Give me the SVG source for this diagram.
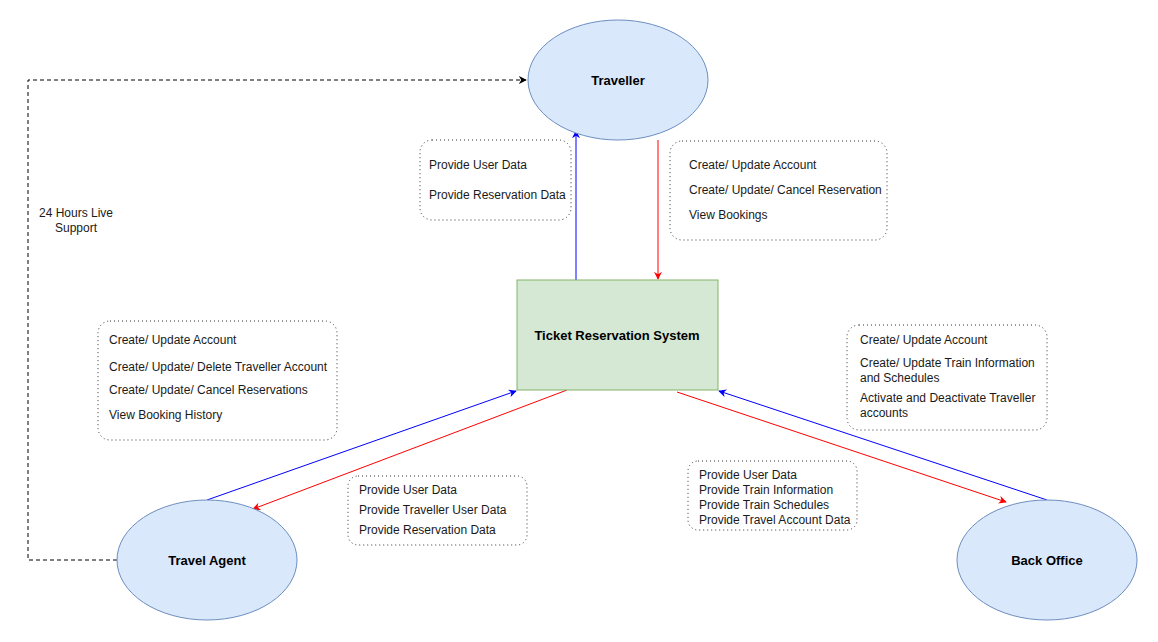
<svg xmlns="http://www.w3.org/2000/svg" width="1158" height="642" viewBox="0 0 1158 642">
<style>
.el{fill:#dae8fc;stroke:#6c8ebf;stroke-width:1}
.sys{fill:#d5e8d4;stroke:#82b366;stroke-width:1}
.box{fill:none;stroke:#333;stroke-width:1;stroke-dasharray:1 3}
.t{font-family:"Liberation Sans",Arial,sans-serif;font-size:12px;fill:#1a1a1a}
.b{font-family:"Liberation Sans",Arial,sans-serif;font-size:13px;font-weight:bold;fill:#000;text-anchor:middle}
.blue{stroke:#0000ff;stroke-width:1;fill:none}
.red{stroke:#ff0000;stroke-width:1;fill:none}
.dash{stroke:#000;stroke-width:1;fill:none;stroke-dasharray:4 3}
</style>
<defs>
<marker id="ab" viewBox="0 0 10 10" refX="9" refY="5" markerWidth="8" markerHeight="8" orient="auto" markerUnits="userSpaceOnUse"><path d="M0,0 L10,5 L0,10 L3,5 Z" fill="#0000ff"/></marker>
<marker id="ar" viewBox="0 0 10 10" refX="9" refY="5" markerWidth="8" markerHeight="8" orient="auto" markerUnits="userSpaceOnUse"><path d="M0,0 L10,5 L0,10 L3,5 Z" fill="#ff0000"/></marker>
<marker id="ak" viewBox="0 0 10 10" refX="9" refY="5" markerWidth="8" markerHeight="8" orient="auto" markerUnits="userSpaceOnUse"><path d="M0,0 L10,5 L0,10 L3,5 Z" fill="#000"/></marker>
</defs>
<rect width="1158" height="642" fill="#fff"/>
<g id="connectors">
<path class="dash" d="M117,560 H28 V80 H526" marker-end="url(#ak)"/>
<line class="blue" x1="576" y1="280" x2="576" y2="131" marker-end="url(#ab)"/>
<line class="red" x1="658" y1="140" x2="658" y2="279" marker-end="url(#ar)"/>
<line class="blue" x1="207" y1="500" x2="516" y2="391" marker-end="url(#ab)"/>
<line class="red" x1="567" y1="390" x2="253" y2="509" marker-end="url(#ar)"/>
<line class="red" x1="677" y1="392" x2="1006" y2="502" marker-end="url(#ar)"/>
<line class="blue" x1="1047" y1="500" x2="719" y2="391" marker-end="url(#ab)"/>
</g>
<g id="traveller">
<ellipse class="el" cx="618" cy="80" rx="90" ry="60"/>
<text class="b" x="618" y="85">Traveller</text>
</g>
<g id="system">
<rect class="sys" x="517" y="280" width="201" height="110"/>
<text class="b" x="617" y="340">Ticket Reservation System</text>
</g>
<g id="travel-agent">
<ellipse class="el" cx="207" cy="560" rx="90" ry="60"/>
<text class="b" x="207" y="565">Travel Agent</text>
</g>
<g id="back-office">
<ellipse class="el" cx="1047" cy="560" rx="90" ry="60"/>
<text class="b" x="1047" y="565">Back Office</text>
</g>
<g id="support-label">
<text class="t" x="76" y="217" text-anchor="middle">24 Hours Live</text>
<text class="t" x="76" y="232" text-anchor="middle">Support</text>
</g>
<g id="note-traveller-out">
<rect class="box" x="420" y="140" width="151" height="80" rx="12"/>
<text class="t" x="429" y="169">Provide User Data</text>
<text class="t" x="429" y="199">Provide Reservation Data</text>
</g>
<g id="note-traveller-in">
<rect class="box" x="670" y="141" width="217" height="99" rx="12"/>
<text class="t" x="689" y="169">Create/ Update Account</text>
<text class="t" x="689" y="194">Create/ Update/ Cancel Reservation</text>
<text class="t" x="689" y="219">View Bookings</text>
</g>
<g id="note-agent-in">
<rect class="box" x="98" y="321" width="239" height="119" rx="12"/>
<text class="t" x="109" y="344">Create/ Update Account</text>
<text class="t" x="109" y="371">Create/ Update/ Delete Traveller Account</text>
<text class="t" x="109" y="394">Create/ Update/ Cancel Reservations</text>
<text class="t" x="109" y="419">View Booking History</text>
</g>
<g id="note-agent-out">
<rect class="box" x="348" y="476" width="179" height="69" rx="10"/>
<text class="t" x="359" y="494">Provide User Data</text>
<text class="t" x="359" y="514">Provide Traveller User Data</text>
<text class="t" x="359" y="534">Provide Reservation Data</text>
</g>
<g id="note-office-in">
<rect class="box" x="847" y="325" width="200" height="105" rx="12"/>
<text class="t" x="860" y="344">Create/ Update Account</text>
<text class="t" x="860" y="367">Create/ Update Train Information</text>
<text class="t" x="860" y="382">and Schedules</text>
<text class="t" x="860" y="402">Activate and Deactivate Traveller</text>
<text class="t" x="860" y="417">accounts</text>
</g>
<g id="note-office-out">
<rect class="box" x="688" y="461" width="169" height="69" rx="10"/>
<text class="t" x="699" y="479">Provide User Data</text>
<text class="t" x="699" y="494">Provide Train Information</text>
<text class="t" x="699" y="509">Provide Train Schedules</text>
<text class="t" x="699" y="524">Provide Travel Account Data</text>
</g>
</svg>
